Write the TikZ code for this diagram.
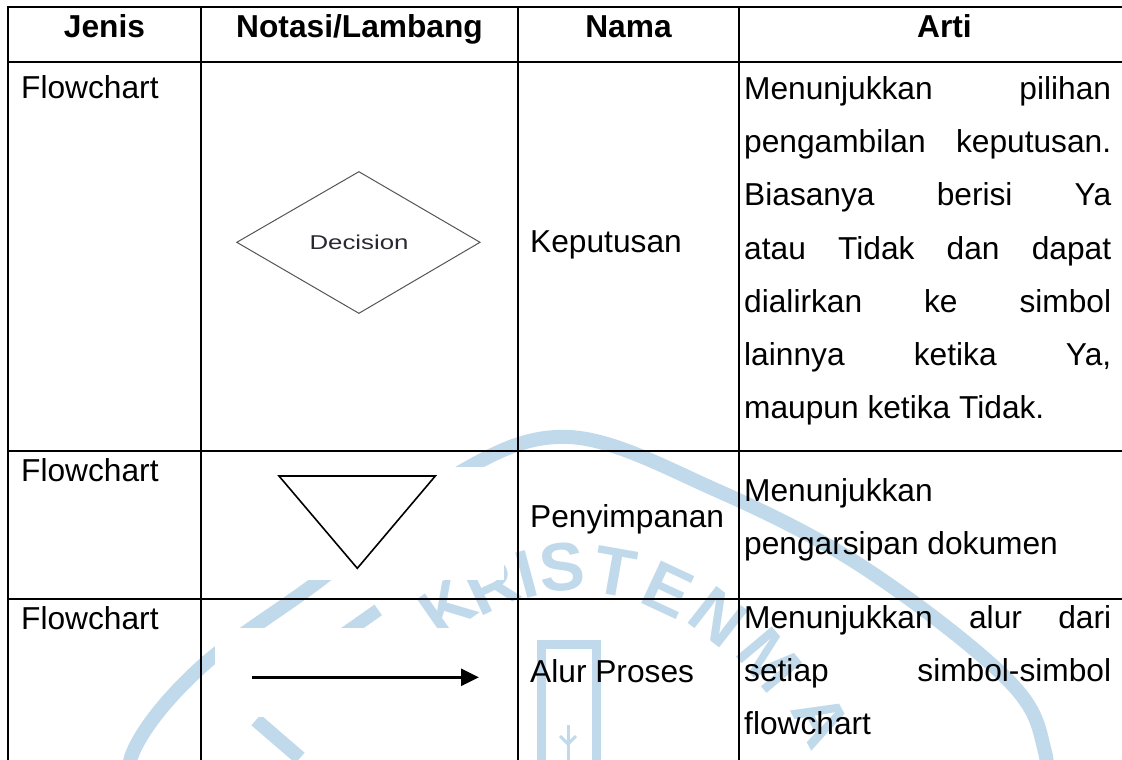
\documentclass[tikz,border=0pt]{standalone}
\usepackage{fontspec}
\setmainfont{Liberation Sans}
\usetikzlibrary{arrows.meta}
\definecolor{wm}{RGB}{192,217,235}
\definecolor{diagline}{RGB}{85,85,85}
\definecolor{diagtext}{RGB}{40,40,50}
\begin{document}
\begin{tikzpicture}[x=1pt,y=-1pt,
  txt/.style={inner sep=0pt, anchor=base west, font=\fontsize{31.7}{38}\selectfont},
  hdr/.style={inner sep=0pt, anchor=base, font=\fontsize{31.7}{38}\selectfont\bfseries},
  gridline/.style={line width=1.8pt, black},
  wmband/.style={wm, line width=14pt},
  wmletter/.style={wm, inner sep=0pt, font=\fontsize{68}{68}\selectfont\bfseries}]
\useasboundingbox (0,0) rectangle (1122,760);
\clip (0,0) rectangle (1122,760);
\fill[white] (0,0) rectangle (1122,760);

% ---------- watermark ----------
\draw[wmband] plot[smooth, tension=0.6] coordinates {(133,820) (133,752) (200,668) (320,580) (450,478) (569,437) (716,490) (863,567) (1008,680) (1045,752) (1045,820)};
\node[wmletter, rotate=35]  (wK) at (447,607) {K};
\node[wmletter, rotate=25]  (wR) at (492,586) {R};
\node[wmletter, rotate=15]  (wI) at (527,574) {I};
\node[wmletter, rotate=5]   (wS) at (562,567) {S};
\node[wmletter, rotate=-10] (wT) at (615,572) {T};
\node[wmletter, rotate=-25] (wE) at (668,590) {E};
\node[wmletter, rotate=-38] (wN) at (718,617) {N};
\node[wmletter, rotate=-50] (wM) at (770,660) {M};
\node[wmletter, rotate=-62] (wA) at (822,720) {A};
\node[wm, fill=wm, rotate=35, minimum width=42pt, minimum height=13pt, inner sep=0pt] (wdash) at (361,622) {};
\draw[wm, line width=14pt] (256,720) -- (300,758);
\draw[wm, line width=9pt] (541.5,780) -- (541.5,644.5) -- (596.5,644.5) -- (596.5,780);
\draw[wm, line width=3pt] (568,725) -- (568,770);
\draw[wm, line width=3pt] (560,736) -- (568,744) -- (576,736);

% white backgrounds of the pasted symbols
\fill[white] (201,467) rectangle (504,580);
\fill[white] (215,628) rectangle (505,717);

% ---------- symbols ----------
\coordinate (dL) at (236.8,242.3);
\coordinate (dT) at (358.9,171.7);
\coordinate (dR) at (480,242.3);
\coordinate (dB) at (358.9,313.3);
\draw[diagline, line width=1pt] (dL) -- (dT) -- (dR) -- (dB) -- cycle;
\node[inner sep=0pt, text=diagtext, font=\fontsize{20}{24}\selectfont] (dec) at (359,242.5) {\scalebox{1.29}[1]{Decision}};

\coordinate (tA) at (279,476);
\coordinate (tB) at (435.3,476);
\coordinate (tC) at (357.3,568.3);
\draw[line width=1.6pt, line join=miter] (tA) -- (tB) -- (tC) -- cycle;

\coordinate (arS) at (251.5,677.3);
\coordinate (arE) at (479,677.3);
\draw[line width=3pt, -{Triangle[length=18pt,width=17pt]}] (arS) -- (arE);

% ---------- header ----------
\node[hdr] (h1) at (104.5,37.5) {Jenis};
\node[hdr] (h2) at (359.5,37.5) {Notasi/Lambang};
\node[hdr] (h3) at (628.5,37.5) {Nama};
\node[hdr] (h4) at (944.5,37.5) {Arti};

% ---------- column Jenis ----------
\node[txt] (j1) at (21,98.5) {Flowchart};
\node[txt] (j2) at (21,481.5) {Flowchart};
\node[txt] (j3) at (21,629.5) {Flowchart};

% ---------- column Nama ----------
\node[txt] (n1) at (530,252) {Keputusan};
\node[txt] (n2) at (530,527) {Penyimpanan};
\node[txt] (n3) at (530,682.5) {Alur Proses};

% ---------- column Arti ----------
\node[txt] (a11) at (744,99.5)  {\makebox[367pt][s]{Menunjukkan pilihan}};
\node[txt] (a12) at (744,152.7) {\makebox[367pt][s]{pengambilan keputusan.}};
\node[txt] (a13) at (744,205.9) {\makebox[367pt][s]{Biasanya berisi Ya}};
\node[txt] (a14) at (744,259.1) {\makebox[367pt][s]{atau Tidak dan dapat}};
\node[txt] (a15) at (744,312.3) {\makebox[367pt][s]{dialirkan ke simbol}};
\node[txt] (a16) at (744,365.5) {\makebox[367pt][s]{lainnya ketika Ya,}};
\node[txt] (a17) at (744,418.7) {maupun ketika Tidak.};
\node[txt] (a21) at (744,501.3) {Menunjukkan};
\node[txt] (a22) at (744,554.5) {pengarsipan dokumen};
\node[txt] (a31) at (744,628.5) {\makebox[367pt][s]{Menunjukkan alur dari}};
\node[txt] (a32) at (744,681.7) {\makebox[367pt][s]{setiap simbol-simbol}};
\node[txt] (a33) at (744,734.9) {flowchart};

% ---------- table grid ----------
\draw[gridline] (7.1,7) -- (1140,7);
\draw[gridline] (7.1,62) -- (1140,62);
\draw[gridline] (7.1,451) -- (1140,451);
\draw[gridline] (7.1,599) -- (1140,599);
\draw[gridline] (8,6.1) -- (8,780);
\draw[gridline] (201,6.1) -- (201,780);
\draw[gridline] (518,6.1) -- (518,780);
\draw[gridline] (739,6.1) -- (739,780);
\end{tikzpicture}
\end{document}
